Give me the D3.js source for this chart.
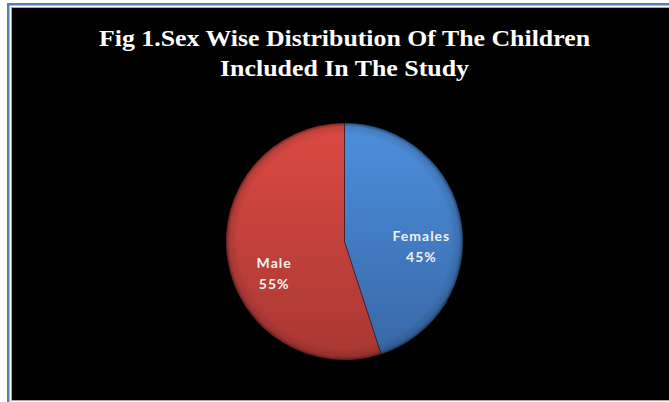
<!DOCTYPE html>
<html>
<head>
<meta charset="utf-8">
<script src="https://cdn.jsdelivr.net/npm/d3@7.9.0/dist/d3.min.js"></script>
<style>
  html, body { margin: 0; padding: 0; background: #fff; }
  svg { display: block; }
</style>
</head>
<body>
<svg id="chart" width="669" height="402"></svg>
<script>
// chart data
const categories = ['Females', 'Male'];
const shares = [45, 55];
const titleLines = ['Fig 1.Sex Wise Distribution Of The Children', 'Included In The Study'];

const width = 669, height = 402;
const cx = 344.5, cy = 241.5, radius = 118.5;

// slice colours: light top / dark bottom
const sliceColors = [
  { light: '#4d8fdd', dark: '#3767a6' },
  { light: '#dc4a43', dark: '#a93733' }
];
// excel nudges the labels a bit towards the horizontal
const labelNudge = [12, -15];

const svg = d3.select('#chart');
const defs = svg.append('defs');

// frame
svg.append('rect').attr('width', width).attr('height', height).attr('fill', '#fff');
svg.append('rect').attr('x', 7).attr('y', 3).attr('width', width - 7).attr('height', 2.5).attr('fill', '#4f81bd');
svg.append('rect').attr('x', 7).attr('y', 3).attr('width', 2.5).attr('height', height - 3).attr('fill', '#4f81bd');
svg.append('rect')
  .attr('x', 11.5).attr('y', 7.5)
  .attr('width', width).attr('height', 393)
  .attr('fill', '#000')
  .attr('stroke', '#a6a6a6').attr('stroke-width', 1);

// title
svg.append('g').selectAll('text')
  .data(titleLines)
  .join('text')
  .attr('x', cx)
  .attr('y', (d, i) => 46 + i * 30)
  .attr('text-anchor', 'middle')
  .attr('font-family', '"Liberation Serif", "DejaVu Serif", serif')
  .attr('font-weight', 'bold')
  .attr('font-size', 24)
  .attr('textLength', (d, i) => i === 0 ? 491 : 249)
  .attr('lengthAdjust', 'spacingAndGlyphs')
  .attr('fill', '#fff')
  .text(d => d);

// gradients (coords relative to pie centre)
sliceColors.forEach((c, i) => {
  const lg = defs.append('linearGradient')
    .attr('id', 'grad' + i)
    .attr('gradientUnits', 'userSpaceOnUse')
    .attr('x1', 0).attr('y1', -radius)
    .attr('x2', 0).attr('y2', radius);
  lg.append('stop').attr('offset', '0%').attr('stop-color', c.light);
  lg.append('stop').attr('offset', '100%').attr('stop-color', c.dark);
});

const rim = defs.append('radialGradient')
  .attr('id', 'rim')
  .attr('gradientUnits', 'userSpaceOnUse')
  .attr('cx', 0).attr('cy', 0).attr('r', radius);
rim.append('stop').attr('offset', '90%').attr('stop-color', '#000').attr('stop-opacity', 0);
rim.append('stop').attr('offset', '97%').attr('stop-color', '#000').attr('stop-opacity', 0.12);
rim.append('stop').attr('offset', '100%').attr('stop-color', '#000').attr('stop-opacity', 0.45);

const pie = d3.pie().sort(null).value(d => d);
const arcs = pie(shares);
const arc = d3.arc().innerRadius(0).outerRadius(radius);

const g = svg.append('g').attr('transform', `translate(${cx},${cy})`);

g.selectAll('path.slice')
  .data(arcs)
  .join('path')
  .attr('class', 'slice')
  .attr('d', arc)
  .attr('fill', (d, i) => `url(#grad${i})`);

// thin divider shading
g.selectAll('path.edge')
  .data(arcs)
  .join('path')
  .attr('class', 'edge')
  .attr('d', arc)
  .attr('fill', 'none')
  .attr('stroke', 'rgba(0,0,0,0.25)')
  .attr('stroke-width', 1);

g.append('circle').attr('r', radius).attr('fill', 'url(#rim)');

// labels
const labelRadius = 77;
const labels = g.selectAll('text.lbl')
  .data(arcs)
  .join('text')
  .attr('class', 'lbl')
  .attr('transform', (d, i) => {
    const a = (d.startAngle + d.endAngle) / 2 + labelNudge[i] * Math.PI / 180;
    return `translate(${labelRadius * Math.sin(a)},${-labelRadius * Math.cos(a)})`;
  })
  .attr('text-anchor', 'middle')
  .attr('font-family', 'Lato, "Open Sans", sans-serif')
  .attr('font-weight', 'bold')
  .attr('font-size', 14)
  .attr('letter-spacing', 1)
  .attr('fill', '#f2f2f2');

labels.append('tspan').attr('x', 0).attr('dy', -5).text((d, i) => categories[i]);
labels.append('tspan').attr('x', 0).attr('dy', 21).text(d => d.data + '%');
</script>
</body>
</html>
